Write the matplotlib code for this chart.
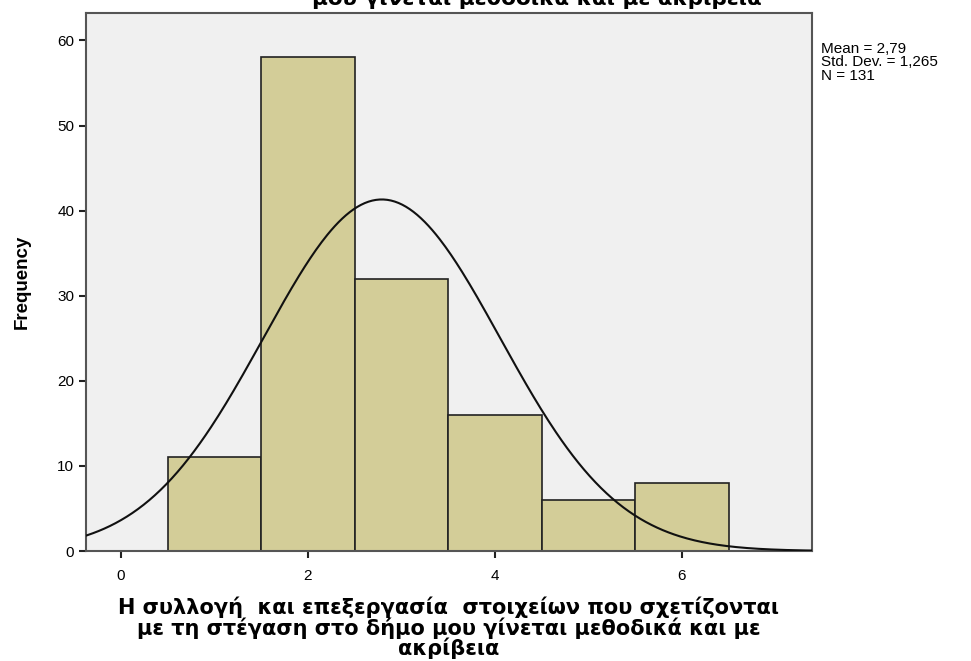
import numpy as np
import matplotlib.pyplot as plt

plt.rcParams['font.family'] = ['Liberation Sans', 'DejaVu Sans']

# histogram data (SPSS output)
bin_centers = [1, 2, 3, 4, 5, 6]
counts = [11, 58, 32, 16, 6, 8]
mean_val = 2.79
std_val = 1.265
n_val = 131

title_txt = 'μου γίνεται μεθοδικά και με ακρίβεια'
xlabel_txt = ('Η συλλογή  και επεξεργασία  στοιχείων που σχετίζονται\n'
              'με τη στέγαση στο δήμο μου γίνεται μεθοδικά και με\n'
              'ακρίβεια')
stats_txt = 'Mean = 2,79\nStd. Dev. = 1,265\nN = 131'

fig = plt.figure(figsize=(9.71, 6.61), dpi=100)
ax = fig.add_axes([0.0886, 0.1664, 0.7474, 0.8136])
ax.set_facecolor('#f0f0f0')

ax.bar(bin_centers, counts, width=1.0, color='#d3cd98', edgecolor='#222222', linewidth=1.2, zorder=2)

# fitted normal curve
xs = np.linspace(-0.5, 7.5, 400)
ys = n_val * 1.0 / (std_val * np.sqrt(2 * np.pi)) * np.exp(-0.5 * ((xs - mean_val) / std_val) ** 2)
ax.plot(xs, ys, color='#111111', linewidth=1.5, zorder=3)

ax.set_xlim(-0.374, 7.39)
ax.set_ylim(0, 63.2)
ax.set_xticks([0, 2, 4, 6])
ax.set_yticks([0, 10, 20, 30, 40, 50, 60])
ax.tick_params(axis='both', direction='out', length=5, width=1.5, labelsize=11, color='#222222')
ax.tick_params(axis='x', pad=8)
for s in ax.spines.values():
    s.set_color('#555555')
    s.set_linewidth(1.5)

ax.set_ylabel('Frequency', fontsize=13.5, fontweight='bold', labelpad=19)
ax.set_xlabel(xlabel_txt, fontsize=15, fontweight='bold', labelpad=10, linespacing=0.93,
              family=['DejaVu Sans'])

fig.text(0.553, 0.987, title_txt, ha='center', va='bottom', fontsize=15.5, fontweight='bold',
         family=['DejaVu Sans'])
fig.text(0.846, 0.937, stats_txt, ha='left', va='top', fontsize=11, linespacing=0.95)

fig.savefig('out.png', dpi=100)
